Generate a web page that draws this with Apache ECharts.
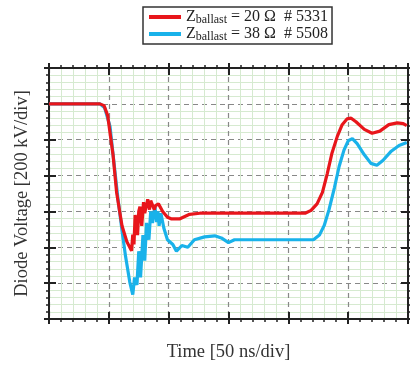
<!DOCTYPE html>
<html>
<head>
<meta charset="utf-8">
<script src="https://cdn.jsdelivr.net/npm/echarts@6/dist/echarts.min.js"></script>
<style>
  html, body { margin: 0; padding: 0; background: #fff; }
  #chart { width: 410px; height: 367px; }
</style>
</head>
<body>
<div id="chart"></div>
<script>
// time in ns (50 ns/div), voltage in kV (200 kV/div)
const redTime = [0, 42.5, 46, 49, 53.5, 56.5, 61, 65, 69, 70, 71, 72, 72.5, 74, 75, 76, 77.5, 79, 80, 81, 82.5, 84, 85, 86.5, 88, 89, 91.5, 95, 99, 102.5, 109, 117.5, 126, 214, 219, 224, 228.5, 232.5, 236.5, 241, 245, 249, 252.5, 256.5, 263.5, 270, 276.5, 284, 291, 296, 299]
const redVolt = [1200, 1200, 1190, 1136, 916, 706, 520, 432, 380, 470, 416, 580, 548, 468, 600, 626, 520, 652, 590, 600, 668, 610, 660, 652, 610, 632, 642, 600, 568, 558, 558, 584, 590, 590, 606, 642, 706, 810, 926, 1020, 1084, 1116, 1120, 1100, 1058, 1036, 1048, 1084, 1094, 1090, 1078]

const blueTime = [0, 42.5, 46.5, 51, 54, 57.5, 61, 64, 67.5, 70, 71.5, 73.5, 75, 76.5, 78.5, 80, 81.5, 83.5, 85, 86.5, 88.5, 90, 91, 92, 93.5, 96, 99, 103.5, 106.5, 111, 116, 121.5, 130, 138.5, 144, 150, 155, 221, 226, 230, 234, 238.5, 242.5, 246.5, 250, 253.5, 257.5, 263.5, 269, 274, 279, 286, 292.5, 299]
const blueVolt = [1200, 1200, 1178, 1074, 890, 678, 494, 348, 206, 136, 232, 190, 378, 232, 468, 326, 536, 442, 600, 536, 626, 540, 600, 520, 590, 506, 442, 416, 378, 410, 400, 442, 458, 464, 452, 426, 442, 442, 468, 522, 610, 732, 852, 942, 994, 1006, 978, 916, 868, 858, 884, 936, 968, 984]

const legendNames = ['20 Ω  # 5331', '38 Ω  # 5508']

const font = 'Liberation Serif'
const chart = echarts.init(document.getElementById('chart'))

const xBase = { type: 'value', min: 0, max: 300, interval: 50 }
const yBase = { type: 'value', min: 0, max: 1400, interval: 200 }
const hidden = { axisLabel: { show: false } }

function xAxis(pos, inside, extra) {
  return Object.assign({}, xBase, hidden, {
    position: pos,
    axisLine: { show: true, onZero: false, lineStyle: { color: '#222', width: 2 } },
    axisTick: { show: true, inside: inside, length: inside ? 7 : 5, lineStyle: { color: '#222', width: 2 } },
    splitLine: { show: false }
  }, extra || {})
}
function yAxis(pos, inside, extra) {
  return Object.assign({}, yBase, hidden, {
    position: pos,
    axisLine: { show: true, onZero: false, lineStyle: { color: '#222', width: 2 } },
    axisTick: { show: true, inside: inside, length: inside ? 7 : 5, lineStyle: { color: '#222', width: 2 } },
    splitLine: { show: false }
  }, extra || {})
}

const option = {
  animation: false,
  backgroundColor: '#fff',
  grid: { left: 49, right: 2, top: 68, bottom: 33 },
  legend: {
    orient: 'vertical',
    left: 143,
    top: 7,
    padding: [2, 4, 1, 6],
    itemGap: 0,
    itemWidth: 32,
    itemHeight: 4,
    icon: 'rect',
    borderColor: '#333',
    borderWidth: 1.5,
    data: ['a', 'b'],
    formatter: n => '{z|Z}{s|ballast}{t| = ' + (n === 'a' ? legendNames[0] : legendNames[1]) + '}',
    textStyle: {
      fontFamily: font,
      rich: {
        z: { fontFamily: font, fontSize: 16, color: '#222' },
        s: { fontFamily: font, fontSize: 12, color: '#222', padding: [6, 0, 0, 0] },
        t: { fontFamily: font, fontSize: 16, color: '#222' }
      }
    }
  },
  xAxis: [
    xAxis('bottom', false, {
      name: 'Time [50 ns/div]',
      nameLocation: 'middle',
      nameGap: 24,
      nameTextStyle: { fontFamily: font, fontSize: 18.5, color: '#333' },
      minorTick: { show: true, splitNumber: 5, length: 3, lineStyle: { color: '#222', width: 1.5 } },
      splitLine: { show: true, lineStyle: { color: '#888', type: [5, 4], width: 1.2 } },
      minorSplitLine: { show: true, lineStyle: { color: '#d6ead0', width: 1 } }
    }),
    xAxis('bottom', true),
    xAxis('top', false, {
      minorTick: { show: true, splitNumber: 5, length: 3, lineStyle: { color: '#222', width: 1.5 } }
    }),
    xAxis('top', true)
  ],
  yAxis: [
    yAxis('left', false, {
      name: 'Diode Voltage [200 kV/div]',
      nameLocation: 'middle',
      nameGap: 17,
      nameTextStyle: { fontFamily: font, fontSize: 18.5, color: '#333' },
      minorTick: { show: true, splitNumber: 5, length: 3, lineStyle: { color: '#222', width: 1.5 } },
      splitLine: { show: true, lineStyle: { color: '#888', type: [5, 4], width: 1.2 } },
      minorSplitLine: { show: true, lineStyle: { color: '#d6ead0', width: 1 } }
    }),
    yAxis('left', true),
    yAxis('right', false, {
      minorTick: { show: true, splitNumber: 5, length: 3, lineStyle: { color: '#222', width: 1.5 } }
    }),
    yAxis('right', true)
  ],
  series: [
    {
      name: 'b',
      type: 'line',
      data: blueTime.map((t, i) => [t, blueVolt[i]]),
      showSymbol: false,
      itemStyle: { color: '#19b2ea' },
      lineStyle: { color: '#19b2ea', width: 3.2 },
      z: 3
    },
    {
      name: 'a',
      type: 'line',
      data: redTime.map((t, i) => [t, redVolt[i]]),
      showSymbol: false,
      itemStyle: { color: '#e8161b' },
      lineStyle: { color: '#e8161b', width: 3.2 },
      z: 4
    }
  ]
}

chart.setOption(option)
</script>
</body>
</html>
